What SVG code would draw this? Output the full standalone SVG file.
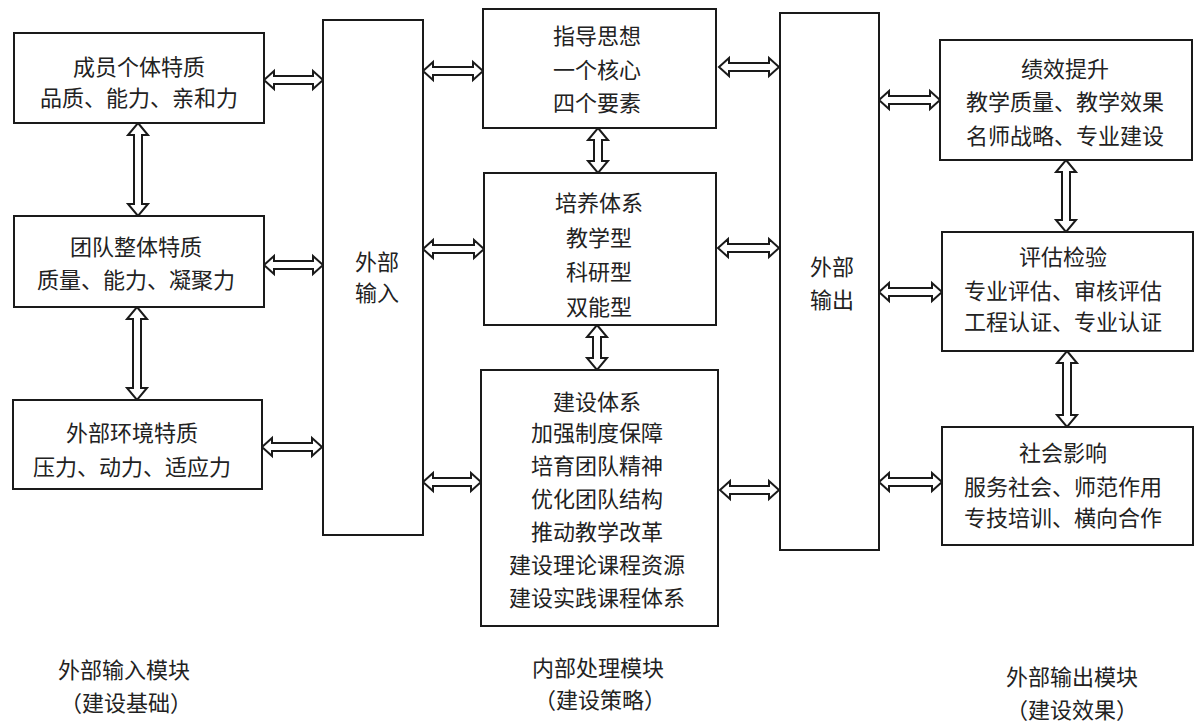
<svg xmlns="http://www.w3.org/2000/svg" width="1200" height="723" viewBox="0 0 1200 723">
<style>
.box{fill:#fff;stroke:#1a1a1a;stroke-width:2}
.arr{fill:#fff;stroke:#1a1a1a;stroke-width:2;stroke-linejoin:miter}
text{font-family:"Noto Sans CJK SC","Noto Sans CJK JP",sans-serif;font-size:22px;fill:#222;text-anchor:middle}
</style>
<rect width="1200" height="723" fill="#fff"/>
<g id="connectors">
<polygon class="arr" points="264,80 274,71 274,76 313,76 313,71 323,80 313,89 313,84 274,84 274,89"/>
<polygon class="arr" points="264,265 274,256 274,261 313,261 313,256 323,265 313,274 313,269 274,269 274,274"/>
<polygon class="arr" points="262,447 272,438 272,443 312,443 312,438 322,447 312,456 312,451 272,451 272,456"/>
<polygon class="arr" points="138,123 148,135 142,135 142,204 148,204 138,216 128,204 134,204 134,135 128,135"/>
<polygon class="arr" points="137,307 147,319 141,319 141,388 147,388 137,400 127,388 133,388 133,319 127,319"/>
<polygon class="arr" points="423,71 433,62 433,67 473,67 473,62 483,71 473,80 473,75 433,75 433,80"/>
<polygon class="arr" points="423,249 433,240 433,245 474,245 474,240 484,249 474,258 474,253 433,253 433,258"/>
<polygon class="arr" points="423,482 433,473 433,478 471,478 471,473 481,482 471,491 471,486 433,486 433,491"/>
<polygon class="arr" points="719,67 729,58 729,63 769,63 769,58 779,67 769,76 769,71 729,71 729,76"/>
<polygon class="arr" points="718,248 728,239 728,244 769,244 769,239 779,248 769,257 769,252 728,252 728,257"/>
<polygon class="arr" points="720,490 730,481 730,486 769,486 769,481 779,490 769,499 769,494 730,494 730,499"/>
<polygon class="arr" points="598,128 608,140 602,140 602,161 608,161 598,173 588,161 594,161 594,140 588,140"/>
<polygon class="arr" points="597,325 607,337 601,337 601,358 607,358 597,370 587,358 593,358 593,337 587,337"/>
<polygon class="arr" points="879,100 889,91 889,96 930,96 930,91 940,100 930,109 930,104 889,104 889,109"/>
<polygon class="arr" points="879,292 889,283 889,288 932,288 932,283 942,292 932,301 932,296 889,296 889,301"/>
<polygon class="arr" points="879,482 889,473 889,478 932,478 932,473 942,482 932,491 932,486 889,486 889,491"/>
<polygon class="arr" points="1066,160 1076,172 1070,172 1070,220 1076,220 1066,232 1056,220 1062,220 1062,172 1056,172"/>
<polygon class="arr" points="1067,351 1077,363 1071,363 1071,415 1077,415 1067,427 1057,415 1063,415 1063,363 1057,363"/>
</g>
<g id="member">
<rect class="box" x="14" y="33" width="250" height="90"/>
<text x="139" y="75">成员个体特质</text>
<text x="139" y="106">品质、能力、亲和力</text>
</g>
<g id="team">
<rect class="box" x="14" y="216" width="250" height="91"/>
<text x="136" y="255">团队整体特质</text>
<text x="136" y="288">质量、能力、凝聚力</text>
</g>
<g id="environment">
<rect class="box" x="13" y="400" width="249" height="89"/>
<text x="132" y="441">外部环境特质</text>
<text x="132" y="475">压力、动力、适应力</text>
</g>
<g id="external-input">
<rect class="box" x="323" y="20" width="100" height="515"/>
<text x="377" y="270">外部</text>
<text x="377" y="301">输入</text>
</g>
<g id="guiding">
<rect class="box" x="483" y="9" width="233" height="119"/>
<text x="597" y="44">指导思想</text>
<text x="597" y="78">一个核心</text>
<text x="597" y="111">四个要素</text>
</g>
<g id="training">
<rect class="box" x="484" y="173" width="232" height="152"/>
<text x="599" y="211">培养体系</text>
<text x="599" y="246">教学型</text>
<text x="599" y="280">科研型</text>
<text x="599" y="315">双能型</text>
</g>
<g id="construction">
<rect class="box" x="481" y="370" width="237" height="256"/>
<text x="597" y="410">建设体系</text>
<text x="597" y="441">加强制度保障</text>
<text x="597" y="474">培育团队精神</text>
<text x="597" y="507">优化团队结构</text>
<text x="597" y="540">推动教学改革</text>
<text x="597" y="573">建设理论课程资源</text>
<text x="597" y="606">建设实践课程体系</text>
</g>
<g id="external-output">
<rect class="box" x="780" y="13" width="99" height="537"/>
<text x="832" y="275">外部</text>
<text x="832" y="308">输出</text>
</g>
<g id="performance">
<rect class="box" x="940" y="40" width="252" height="120"/>
<text x="1065" y="77">绩效提升</text>
<text x="1065" y="110">教学质量、教学效果</text>
<text x="1065" y="144">名师战略、专业建设</text>
</g>
<g id="evaluation">
<rect class="box" x="942" y="232" width="251" height="119"/>
<text x="1063" y="265">评估检验</text>
<text x="1063" y="299">专业评估、审核评估</text>
<text x="1063" y="330">工程认证、专业认证</text>
</g>
<g id="social">
<rect class="box" x="942" y="427" width="251" height="118"/>
<text x="1063" y="461">社会影响</text>
<text x="1063" y="495">服务社会、师范作用</text>
<text x="1063" y="526">专技培训、横向合作</text>
</g>
<g id="labels">
<text x="124" y="678">外部输入模块</text>
<text x="126" y="711">（建设基础）</text>
<text x="598" y="676">内部处理模块</text>
<text x="600" y="708">（建设策略）</text>
<text x="1072" y="685">外部输出模块</text>
<text x="1072" y="718">（建设效果）</text>
</g>
</svg>
